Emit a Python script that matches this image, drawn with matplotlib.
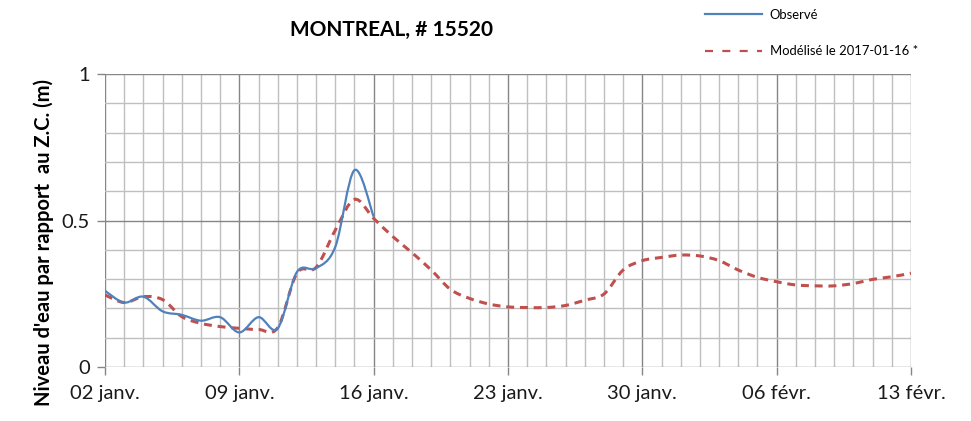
import numpy as np
import matplotlib
matplotlib.use("Agg")
import matplotlib.pyplot as plt
from matplotlib.path import Path
from matplotlib.patches import PathPatch
from matplotlib.lines import Line2D

plt.rcParams['font.family'] = ['Lato', 'DejaVu Sans']

# Days counted from 02 janv.
obs_days = list(range(0, 15))
obs_level = [0.26, 0.22, 0.24, 0.19, 0.178, 0.158, 0.17, 0.118, 0.17, 0.132,
             0.324, 0.337, 0.41, 0.672, 0.513]

mod_days = list(range(0, 43))
mod_level = [0.246, 0.22, 0.24, 0.23, 0.172, 0.149, 0.138, 0.132, 0.128, 0.134,
             0.32, 0.34, 0.467, 0.572, 0.507, 0.445, 0.39, 0.331, 0.265, 0.234,
             0.215, 0.205, 0.203, 0.203, 0.21, 0.228, 0.249, 0.331, 0.363, 0.374,
             0.382, 0.379, 0.363, 0.331, 0.306, 0.291, 0.28, 0.277, 0.277, 0.285,
             0.299, 0.308, 0.32]

tick_days = [0, 7, 14, 21, 28, 35, 42]
tick_labels = ['02 janv.', '09 janv.', '16 janv.', '23 janv.', '30 janv.', '06 févr.', '13 févr.']

blue = '#4F81BD'
red = '#C0504D'


def smooth_path(x, y):
    # Excel-style smoothed line (Catmull-Rom as cubic Bezier)
    pts = np.column_stack([x, y]).astype(float)
    n = len(pts)
    verts = [pts[0]]
    codes = [Path.MOVETO]
    for i in range(n - 1):
        p0 = pts[max(i - 1, 0)]
        p1 = pts[i]
        p2 = pts[i + 1]
        p3 = pts[min(i + 2, n - 1)]
        verts += [p1 + (p2 - p0) / 6, p2 - (p3 - p1) / 6, p2]
        codes += [Path.CURVE4] * 3
    return Path(verts, codes)


fig = plt.figure(figsize=(9.71, 4.21), dpi=100)
ax = fig.add_axes([105 / 971, 1 - 367 / 421, 806 / 971, 293 / 421])

ax.set_xlim(0, 42)
ax.set_ylim(0, 1)

# Grid
for d in range(0, 43):
    major = d % 7 == 0
    ax.axvline(d, color='#868686' if major else '#BFBFBF', lw=1.0, zorder=0)
for v in np.arange(0, 1.01, 0.1):
    major = abs(v - 0.5) < 1e-6 or v < 1e-6 or v > 0.99
    ax.axhline(v, color='#868686' if major else '#BFBFBF', lw=1.0, zorder=0)

for s in ax.spines.values():
    s.set_visible(False)

ax.set_xticks(tick_days)
ax.set_xticklabels(tick_labels)
ax.set_yticks([0, 0.5, 1])
ax.set_yticklabels(['0', '0.5', '1'])
ax.tick_params(axis='both', length=6, width=1, color='#868686', labelsize=14.5, labelcolor='#1a1a1a')
ax.tick_params(axis='x', pad=7)
ax.tick_params(axis='y', pad=5)

mod_patch = PathPatch(smooth_path(mod_days, mod_level), fill=False, edgecolor=red,
                      lw=2.2, linestyle=(0, (2.6, 1.9)), zorder=3)
ax.add_patch(mod_patch)
obs_patch = PathPatch(smooth_path(obs_days, obs_level), fill=False, edgecolor=blue,
                      lw=1.6, zorder=4)
ax.add_patch(obs_patch)

handles = [Line2D([], [], color=blue, lw=1.6),
           Line2D([], [], color=red, lw=1.6, linestyle=(0, (3.6, 4.2)))]
fig.legend(handles, ['Observé', 'Modélisé le 2017-01-16 *'], loc='upper left',
           bbox_to_anchor=(705 / 971, 1 - 9 / 421), frameon=False, fontsize=9.4,
           handlelength=4.4, handletextpad=0.55, labelspacing=1.85,
           borderpad=0, borderaxespad=0)

fig.text(392 / 971, 1 - 30 / 421, 'MONTREAL, # 15520', ha='center', va='center',
         fontsize=15, fontweight='bold')
fig.text(44 / 971, 1 - 242 / 421, "Niveau d'eau par rapport  au Z.C. (m)", ha='center',
         va='center', rotation=90, fontsize=14.5, fontweight='bold')

fig.savefig('out.png', dpi=100)
